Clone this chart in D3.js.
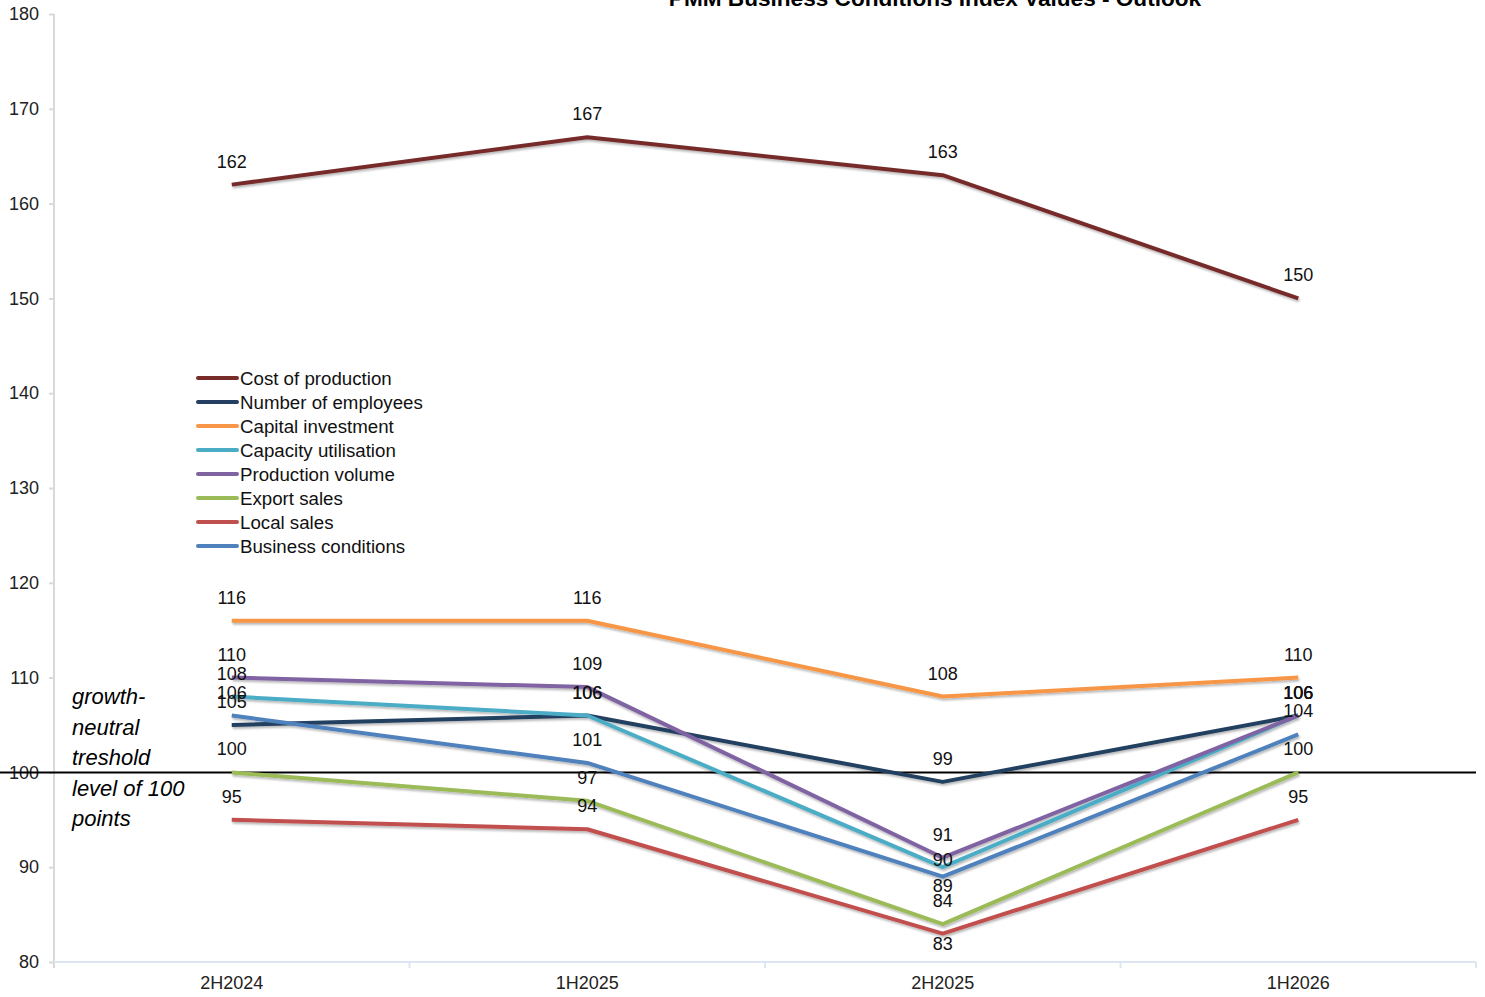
<!DOCTYPE html>
<html>
<head>
<meta charset="utf-8">
<script src="https://cdn.jsdelivr.net/npm/d3@7"></script>
<style>
  html, body { margin: 0; padding: 0; background: #fff; }
  svg { display: block; font-family: "Liberation Sans", Arial, sans-serif; }
</style>
</head>
<body>
<svg id="chart" width="1485" height="997"></svg>
<script>
// Half-year periods on the x axis
const periods = ["2H2024", "1H2025", "2H2025", "1H2026"];

// Index values per indicator
const costOfProduction     = [162, 167, 163, 150];
const numberOfEmployees    = [105, 106, 99, 106];
const capitalInvestment    = [116, 116, 108, 110];
const capacityUtilisation  = [108, 106, 90, 106];
const productionVolume     = [110, 109, 91, 106];
const exportSales          = [100, 97, 84, 100];
const localSales           = [95, 94, 83, 95];
const businessConditions   = [106, 101, 89, 104];

const seriesNames = [
  "Cost of production", "Number of employees", "Capital investment",
  "Capacity utilisation", "Production volume", "Export sales",
  "Local sales", "Business conditions"
];
const seriesValues = [
  costOfProduction, numberOfEmployees, capitalInvestment,
  capacityUtilisation, productionVolume, exportSales,
  localSales, businessConditions
];
const seriesColors = [
  "#772c2a", "#243f60", "#f79646", "#4bacc6",
  "#8064a2", "#9bbb59", "#c0504d", "#4f81bd"
];

const yTicks = [80, 90, 100, 110, 120, 130, 140, 150, 160, 170, 180];
const neutralLevel = 100;
const titleText = "PMM Business Conditions Index Values - Outlook";
const noteLines = ["growth-", "neutral", "treshold", "level of 100", "points"];

// Data labels sit above their point; a few at 2H2025 are nudged to avoid overlap
const labelShift = {
  "Capacity utilisation|2H2025": 16,
  "Business conditions|2H2025": 32,
  "Local sales|2H2025": 33
};

const svg = d3.select("#chart");
const plot = { left: 54, right: 1476, top: 14, bottom: 962 };

const x = d3.scaleBand().domain(periods).range([plot.left, plot.right]).padding(0);
const y = d3.scaleLinear().domain([80, 180]).range([plot.bottom, plot.top]);
const cx = p => x(p) + x.bandwidth() / 2;

// soft shadow under the series lines
const defs = svg.append("defs");
const f = defs.append("filter").attr("id", "shadow")
  .attr("x", "-5%").attr("y", "-20%").attr("width", "110%").attr("height", "140%");
f.append("feDropShadow").attr("dx", 1).attr("dy", 2).attr("stdDeviation", 1.3)
  .attr("flood-color", "#000").attr("flood-opacity", 0.28);

// Title (partly clipped by the top edge)
svg.append("text")
  .attr("x", 935).attr("y", 6)
  .attr("text-anchor", "middle")
  .style("font-weight", "bold").style("font-size", "22.6px").style("fill", "#000")
  .text(titleText);

// Y axis
const yAxis = d3.axisLeft(y).tickValues(yTicks).tickSize(5).tickPadding(10);
const gy = svg.append("g").attr("transform", `translate(${plot.left},0)`).call(yAxis);
gy.select(".domain").attr("stroke", "#d9d9d9").attr("stroke-width", 2)
  .attr("d", `M0,${plot.top}V${plot.bottom + 6}`);
gy.selectAll(".tick line").attr("stroke", "#d9d9d9").attr("stroke-width", 2);
gy.selectAll(".tick text").style("font-size", "18px").style("fill", "#222")
  .attr("font-family", "Liberation Sans, Arial, sans-serif");

// X axis with ticks at the band boundaries
const xAxis = d3.axisBottom(x).tickSize(0).tickPadding(14);
const gx = svg.append("g").attr("transform", `translate(0,${plot.bottom})`).call(xAxis);
gx.select(".domain").attr("stroke", "#dce6f2").attr("stroke-width", 2)
  .attr("d", `M${plot.left},0H${plot.right}`);
gx.selectAll(".tick text").style("font-size", "18px").style("fill", "#222")
  .attr("font-family", "Liberation Sans, Arial, sans-serif");
gx.selectAll(".boundary")
  .data(periods.slice(1).map(p => x(p)).concat([plot.right]))
  .enter().append("line")
  .attr("x1", d => d).attr("x2", d => d)
  .attr("y1", 0).attr("y2", 6)
  .attr("stroke", "#dce6f2").attr("stroke-width", 2);

// Growth-neutral reference line
svg.append("line")
  .attr("x1", 0).attr("x2", plot.right)
  .attr("y1", y(neutralLevel)).attr("y2", y(neutralLevel))
  .attr("stroke", "#000").attr("stroke-width", 2);

svg.append("g").selectAll("text").data(noteLines).enter().append("text")
  .attr("x", 72).attr("y", (d, i) => 704 + i * 30.5)
  .style("font-size", "22px").style("font-style", "italic").style("fill", "#000")
  .text(d => d);

// Series lines
const series = seriesNames.map((name, i) => ({
  name, color: seriesColors[i],
  points: periods.map((p, j) => ({ period: p, value: seriesValues[i][j] }))
}));

const line = d3.line().x(d => cx(d.period)).y(d => y(d.value));

svg.append("g").attr("filter", "url(#shadow)")
  .selectAll("path").data(series).enter().append("path")
  .attr("d", d => line(d.points))
  .attr("fill", "none")
  .attr("stroke", d => d.color)
  .attr("stroke-width", 4)
  .attr("stroke-linejoin", "round");

// Data labels
const labelData = series.flatMap(s => s.points.map(pt => ({ ...pt, name: s.name })));
svg.append("g").selectAll("text").data(labelData).enter().append("text")
  .attr("x", d => cx(d.period))
  .attr("y", d => y(d.value) - 23 + (labelShift[`${d.name}|${d.period}`] || 0))
  .attr("text-anchor", "middle")
  .attr("dominant-baseline", "central")
  .style("font-size", "18px").style("fill", "#111")
  .text(d => d.value);

// Legend
const legend = svg.append("g").attr("transform", "translate(198,378)");
const rows = legend.selectAll("g").data(series).enter().append("g")
  .attr("transform", (d, i) => `translate(0,${i * 24})`);
rows.append("line").attr("x1", 0).attr("x2", 39).attr("y1", 0).attr("y2", 0)
  .attr("stroke", d => d.color).attr("stroke-width", 4).attr("stroke-linecap", "round");
rows.append("text").attr("x", 42).attr("y", 0).attr("dominant-baseline", "central")
  .style("font-size", "18.7px").style("fill", "#111").text(d => d.name);
</script>
</body>
</html>
